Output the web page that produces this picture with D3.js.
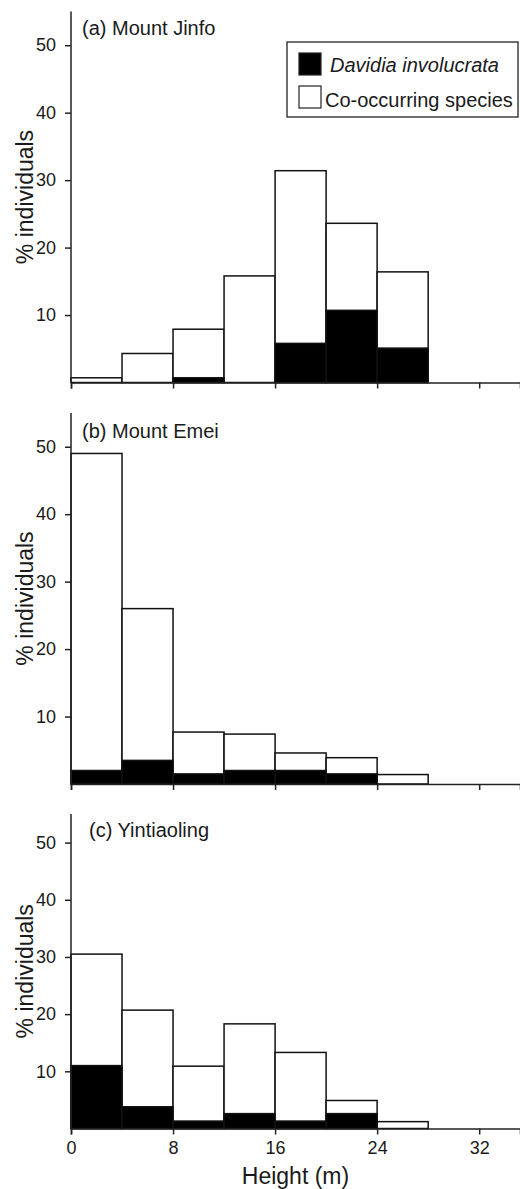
<!DOCTYPE html>
<html>
<head>
<meta charset="utf-8">
<script src="https://cdn.jsdelivr.net/npm/d3@7"></script>
<style>
  body { margin: 0; background: #fff; }
  text { font-family: "Liberation Sans", Arial, sans-serif; fill: #1a1a1a; }
</style>
</head>
<body>
<svg id="chart"></svg>
<script>
// height classes (m), each bin is 4 m wide
var binStarts = [0, 4, 8, 12, 16, 20, 24];
var binWidth = 4;
var xTicks = [0, 8, 16, 24, 32];
var yTicks = [10, 20, 30, 40, 50];

// % individuals per height class
var jinfoDavidia = [0, 0, 0.7, 0, 5.8, 10.7, 5.1];
var jinfoOther   = [0.7, 4.3, 7.2, 15.8, 25.6, 12.9, 11.3];
var emeiDavidia  = [2.0, 3.5, 1.5, 2.0, 2.0, 1.5, 0];
var emeiOther    = [47.0, 22.5, 6.2, 5.4, 2.6, 2.4, 1.4];
var yinDavidia   = [11.0, 3.8, 1.3, 2.6, 1.3, 2.6, 0];
var yinOther     = [19.5, 16.9, 9.6, 15.7, 12.0, 2.3, 1.2];

var panelTitles = ["(a) Mount Jinfo", "(b) Mount Emei", "(c) Yintiaoling"];
var legendLabels = ["Davidia involucrata", "Co-occurring species"];

var width = 520;
var height = 1189;
var left = 71;

var panels = [
  { title: panelTitles[0], davidia: jinfoDavidia, other: jinfoOther, top: 11.5, bottom: 382.5, titleX: 82, titleY: 35 },
  { title: panelTitles[1], davidia: emeiDavidia, other: emeiOther, top: 413, bottom: 784, titleX: 82, titleY: 438 },
  { title: panelTitles[2], davidia: yinDavidia, other: yinOther, top: 814, bottom: 1128.5, titleX: 89, titleY: 837 }
];

var svg = d3.select("#chart")
  .attr("width", width)
  .attr("height", height);

var x = d3.scaleLinear()
  .domain([0, 35.2])
  .range([left, width]);

var stack = d3.stack().keys(["davidia", "other"]);
var fills = { davidia: "#000", other: "#fff" };

panels.forEach(function(p, idx) {
  var y = d3.scaleLinear()
    .domain([0, 55])
    .range([p.bottom, p.top]);

  var rows = binStarts.map(function(b, i) {
    return { start: b, davidia: p.davidia[i], other: p.other[i] };
  });
  var series = stack(rows);

  var g = svg.append("g");

  // outline of total bar, then black part at bottom
  g.selectAll(".total")
    .data(series[1])
    .enter()
    .append("rect")
    .attr("x", d => x(d.data.start))
    .attr("width", d => x(d.data.start + binWidth) - x(d.data.start))
    .attr("y", d => y(d[1]))
    .attr("height", d => y(0) - y(d[1]))
    .attr("fill", fills.other)
    .attr("stroke", "#111")
    .attr("stroke-width", 1.5);

  g.selectAll(".dav")
    .data(series[0].filter(d => d[1] > 0))
    .enter()
    .append("rect")
    .attr("x", d => x(d.data.start))
    .attr("width", d => x(d.data.start + binWidth) - x(d.data.start))
    .attr("y", d => y(d[1]))
    .attr("height", d => y(0) - y(d[1]))
    .attr("fill", fills.davidia)
    .attr("stroke", "#111")
    .attr("stroke-width", 1.5);

  // axes
  var xAxis = d3.axisBottom(x)
    .tickValues(xTicks)
    .tickSizeOuter(0)
    .tickSize(6)
    .tickPadding(7);
  if (idx < 2) xAxis.tickFormat("");

  var gx = svg.append("g")
    .attr("transform", "translate(0," + p.bottom + ")")
    .call(xAxis);

  var yAxis = d3.axisLeft(y)
    .tickValues(yTicks)
    .tickSizeOuter(0)
    .tickSize(6)
    .tickPadding(9);

  var gy = svg.append("g")
    .attr("transform", "translate(" + left + ",0)")
    .call(yAxis);

  // axis line goes up to the top of the panel
  gy.select(".domain").attr("d", "M0," + p.bottom + "V" + p.top);

  [gx, gy].forEach(function(a) {
    a.selectAll("path, line").attr("stroke", "#222").attr("stroke-width", 1.5);
    a.selectAll("text").attr("font-size", 18).attr("fill", "#1a1a1a")
      .attr("font-family", "Liberation Sans, Arial, sans-serif");
  });

  svg.append("text")
    .attr("transform", "translate(33," + ((p.top + p.bottom) / 2) + ") rotate(-90)")
    .attr("text-anchor", "middle")
    .attr("font-size", 23)
    .text("% individuals");

  svg.append("text")
    .attr("x", p.titleX)
    .attr("y", p.titleY)
    .attr("font-size", 20)
    .text(p.title);
});

svg.append("text")
  .attr("x", (left + width) / 2)
  .attr("y", 1184)
  .attr("text-anchor", "middle")
  .attr("font-size", 23)
  .text("Height (m)");

// Legend
var legend = svg.append("g")
  .attr("transform", "translate(287, 42)");

legend.append("rect")
  .attr("width", 231)
  .attr("height", 75)
  .attr("fill", "#fff")
  .attr("stroke", "#222")
  .attr("stroke-width", 1.3);

legend.selectAll(".sw")
  .data(legendLabels)
  .enter()
  .append("rect")
  .attr("x", 12)
  .attr("y", (d, i) => 11 + i * 33)
  .attr("width", 22)
  .attr("height", 22)
  .attr("fill", (d, i) => i === 0 ? "#000" : "#fff")
  .attr("stroke", "#222")
  .attr("stroke-width", 1.2);

legend.selectAll(".lbl")
  .data(legendLabels)
  .enter()
  .append("text")
  .attr("x", (d, i) => i === 0 ? 43 : 38)
  .attr("y", (d, i) => 30 + i * 34.5)
  .attr("font-size", 20)
  .attr("font-style", (d, i) => i === 0 ? "italic" : "normal")
  .text(d => d);
</script>
</body>
</html>
